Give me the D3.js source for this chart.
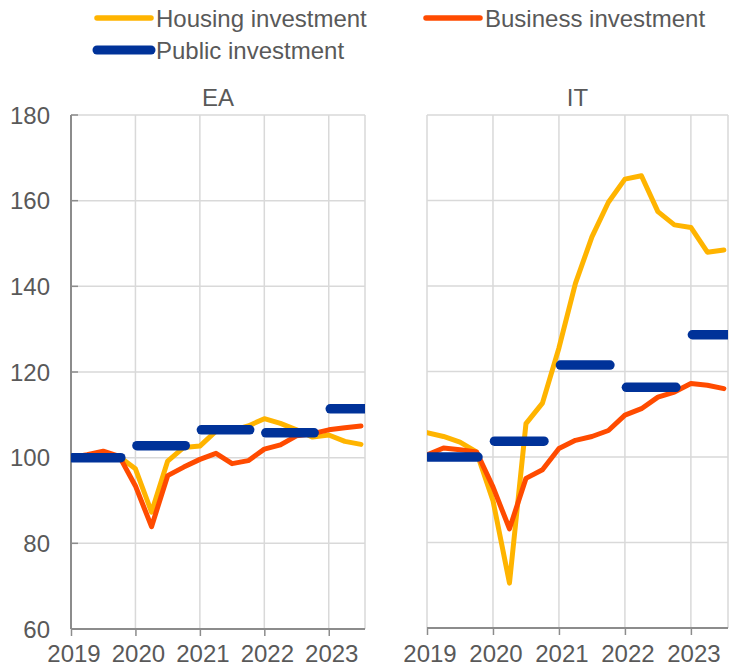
<!DOCTYPE html>
<html>
<head>
<meta charset="utf-8">
<script src="https://cdn.jsdelivr.net/npm/d3@7"></script>
<style>
  html, body { margin: 0; padding: 0; background: #fff; }
  svg { display: block; font-family: "Liberation Sans", Arial, sans-serif; }
</style>
</head>
<body>
<svg id="chart" width="729" height="667"></svg>
<script>
// Quarterly index levels, 2019Q1 = 100, from 2019Q1 to 2023Q3
const quarters = ["2019Q1","2019Q2","2019Q3","2019Q4","2020Q1","2020Q2","2020Q3","2020Q4",
  "2021Q1","2021Q2","2021Q3","2021Q4","2022Q1","2022Q2","2022Q3","2022Q4","2023Q1","2023Q2","2023Q3"];
const yearLabels = ["2019","2020","2021","2022","2023"];
const yTicks = [60, 80, 100, 120, 140, 160, 180];

const eaHousing  = [100, 100.4, 100.8, 100.2, 97.4, 87.3, 99.2, 102.4, 102.7, 106.2, 106.3, 107.4, 109.1, 108.0, 106.5, 104.8, 105.3, 103.8, 103.1];
const eaBusiness = [100, 100.7, 101.5, 100.3, 93.4, 83.9, 95.8, 97.8, 99.6, 101.0, 98.6, 99.3, 102.0, 103.0, 105.1, 105.6, 106.5, 107.0, 107.4];
const eaPublic   = [100, 102.8, 106.5, 105.8, 111.4];   // annual, 2019-2023

const itHousing  = [105.7, 104.8, 103.5, 101.2, 89.8, 70.5, 107.8, 112.6, 125.5, 140.6, 151.5, 159.6, 165.0, 165.8, 157.4, 154.3, 153.7, 147.9, 148.4];
const itBusiness = [100.5, 102.1, 101.7, 101.2, 93.0, 83.2, 95.0, 97.0, 102.0, 103.9, 104.8, 106.2, 109.8, 111.3, 114.0, 115.2, 117.2, 116.8, 116.0];
const itPublic   = [100, 103.7, 121.5, 116.3, 128.6];

const colors = { housing: "#FFB400", business: "#FF4B00", publicInv: "#003299" };
const textColor = "#595959";
const gridColor = "#D9D9D9";
const axisColor = "#8C8C8C";
const fontSize = 24;

const svg = d3.select("#chart");

const panels = [
  { name: "EA", housing: eaHousing, business: eaBusiness, pub: eaPublic,
    x0: 71, x1: 365, yBottom: 629, yTop: 115, showY: true },
  { name: "IT", housing: itHousing, business: itBusiness, pub: itPublic,
    x0: 427, x1: 728, yBottom: 628, yTop: 115, showY: false }
];

const xMax = 18.25; // quarter index at the right edge of each panel

panels.forEach((p, pi) => {
  const x = d3.scaleLinear().domain([0, xMax]).range([p.x0, p.x1]);
  const y = d3.scaleLinear().domain([60, 180]).range([p.yBottom, p.yTop]);
  const g = svg.append("g");

  const clipId = "clip" + pi;
  svg.append("defs").append("clipPath").attr("id", clipId)
    .append("rect").attr("x", p.x0).attr("y", p.yTop - 10)
    .attr("width", p.x1 - p.x0).attr("height", p.yBottom - p.yTop + 20);

  // horizontal gridlines
  g.selectAll(".hgrid").data(yTicks.filter(v => v > 60)).join("line")
    .attr("x1", p.x0).attr("x2", p.x1)
    .attr("y1", d => y(d)).attr("y2", d => y(d))
    .attr("stroke", gridColor).attr("stroke-width", 1.5);

  // vertical gridlines at year starts and at the right edge
  const vPos = [4, 8, 12, 16, xMax];
  g.selectAll(".vgrid").data(vPos).join("line")
    .attr("x1", d => x(d)).attr("x2", d => x(d))
    .attr("y1", p.yTop).attr("y2", p.yBottom)
    .attr("stroke", gridColor).attr("stroke-width", 1.5);

  // left axis line, with short inward ticks on the EA panel
  g.append("line")
    .attr("x1", p.x0).attr("x2", p.x0).attr("y1", p.yTop).attr("y2", p.yBottom)
    .attr("stroke", p.showY ? axisColor : gridColor).attr("stroke-width", p.showY ? 2 : 1.5);
  if (p.showY) {
    g.selectAll(".ytick").data(yTicks.filter(v => v > 60)).join("line")
      .attr("x1", p.x0).attr("x2", p.x0 + 7)
      .attr("y1", d => y(d)).attr("y2", d => y(d))
      .attr("stroke", axisColor).attr("stroke-width", 1.5);
  }

  // bottom axis with year ticks
  const xAxis = d3.axisBottom(x)
    .tickValues([0, 4, 8, 12, 16])
    .tickFormat((d, i) => yearLabels[i])
    .tickSize(7).tickSizeOuter(0);
  const ax = g.append("g").attr("transform", `translate(0,${p.yBottom})`).call(xAxis);
  ax.select(".domain").attr("stroke", axisColor).attr("stroke-width", 2)
    .attr("d", `M${p.x0},0H${p.x1}`);
  ax.selectAll(".tick line").attr("stroke", axisColor).attr("stroke-width", 1.5);
  ax.selectAll(".tick text")
    .attr("fill", textColor).attr("font-size", fontSize)
    .attr("font-family", "Liberation Sans, Arial, sans-serif")
    .attr("dx", 2.5).attr("y", 0).attr("dy", 0)
    .attr("transform", `translate(0,${666 - p.yBottom - 4})`);

  // y tick labels
  if (p.showY) {
    g.selectAll(".ylab").data(yTicks).join("text")
      .attr("x", 50).attr("y", d => y(d))
      .attr("dy", "0.36em")
      .attr("text-anchor", "end")
      .attr("fill", textColor).attr("font-size", fontSize)
      .text(d => d);
  }

  // panel title
  g.append("text")
    .attr("x", (p.x0 + p.x1) / 2).attr("y", 106)
    .attr("text-anchor", "middle")
    .attr("fill", textColor).attr("font-size", fontSize)
    .text(p.name);

  const series = g.append("g").attr("clip-path", `url(#${clipId})`);
  const line = d3.line().x((d, i) => x(i)).y(d => y(d));

  series.append("path").datum(p.housing).attr("d", line)
    .attr("fill", "none").attr("stroke", colors.housing)
    .attr("stroke-width", 5).attr("stroke-linejoin", "round").attr("stroke-linecap", "round");
  series.append("path").datum(p.business).attr("d", line)
    .attr("fill", "none").attr("stroke", colors.business)
    .attr("stroke-width", 5).attr("stroke-linejoin", "round").attr("stroke-linecap", "round");

  // annual public investment: one segment spanning Q1..Q4 of each year
  series.selectAll(".pub").data(p.pub).join("line")
    .attr("x1", (d, i) => x(i * 4) + 1.5).attr("x2", (d, i) => x(i * 4 + 3) + 1.5)
    .attr("y1", d => y(d)).attr("y2", d => y(d))
    .attr("stroke", colors.publicInv).attr("stroke-width", 9.5)
    .attr("stroke-linecap", "round");
});

// legend
const legendItems = [
  { label: "Housing investment", color: colors.housing, x: 97, y: 18, w: 5.5 },
  { label: "Business investment", color: colors.business, x: 426, y: 18, w: 5.5 },
  { label: "Public investment", color: colors.publicInv, x: 97, y: 50, w: 9 }
];
const lg = svg.append("g");
legendItems.forEach(it => {
  lg.append("line")
    .attr("x1", it.x).attr("x2", it.x + 54)
    .attr("y1", it.y).attr("y2", it.y)
    .attr("stroke", it.color).attr("stroke-width", it.w).attr("stroke-linecap", "round");
  lg.append("text")
    .attr("x", it.x + 59).attr("y", it.y + 9)
    .attr("fill", textColor).attr("font-size", fontSize)
    .text(it.label);
});
</script>
</body>
</html>
